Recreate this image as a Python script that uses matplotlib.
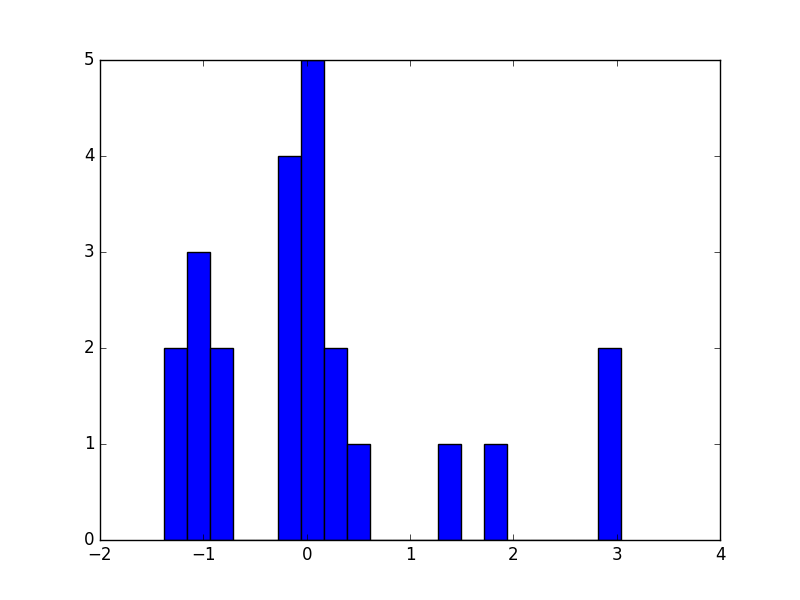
import numpy as np
import matplotlib
matplotlib.use('Agg')
import matplotlib.pyplot as plt

plt.style.use('classic')

# Histogram: 20 equal bins between data min and max
data_min = -1.381
data_max = 3.042
counts = [2, 3, 2, 0, 0, 4, 5, 2, 1, 0, 0, 0, 1, 0, 1, 0, 0, 0, 0, 2]

edges = np.linspace(data_min, data_max, len(counts) + 1)
centers = (edges[:-1] + edges[1:]) / 2

fig = plt.figure(figsize=(8, 6), dpi=100)
ax = fig.add_subplot(111)
ax.hist(centers, bins=edges, weights=counts, color='b', edgecolor='k')
ax.set_xlim(-2, 4)
ax.set_ylim(0, 5)

fig.savefig('out.png', dpi=100)
